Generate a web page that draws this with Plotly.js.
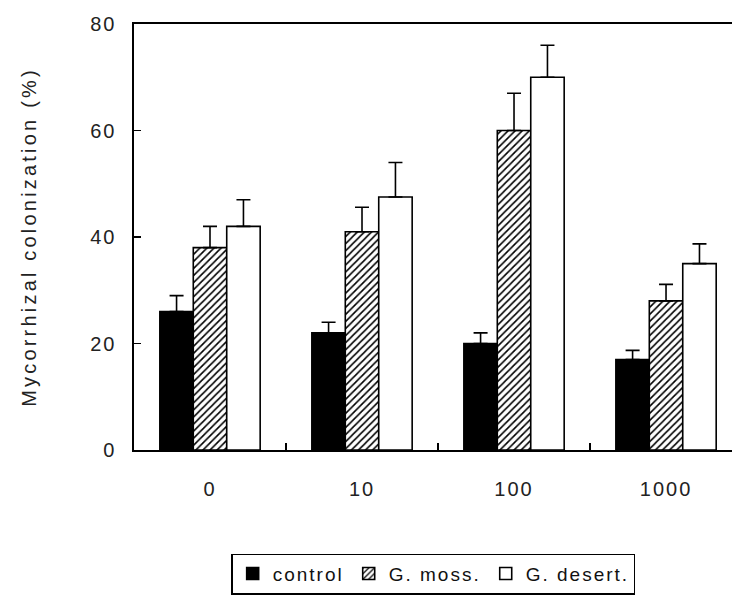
<!DOCTYPE html>
<html>
<head>
<meta charset="utf-8">
<script src="https://cdn.plot.ly/plotly-3.0.1.min.js"></script>
<style>
html,body{margin:0;padding:0;overflow:hidden;background:#fff;width:732px;height:599px;}
#chart{width:732px;height:599px;}
.xtick text, .ytick text, .legendtext { letter-spacing: 2px; }
.ytitle { letter-spacing: 3.2px; }
</style>
</head>
<body>
<div id="chart"></div>
<script>
const categories = ["0", "10", "100", "1000"];
const controlValues = [26, 22, 20, 17];
const controlErrors = [3, 2, 2, 1.7];
const mossValues = [38, 41, 60, 28];
const mossErrors = [4, 4.6, 7, 3.1];
const desertValues = [42, 47.5, 70, 35];
const desertErrors = [5, 6.5, 6, 3.7];
const yTicks = [0, 20, 40, 60, 80];
const seriesNames = ["control", "G. moss.", "G. desert."];

const errStyle = (arr) => ({type: "data", array: arr, symmetric: false, arrayminus: arr.map(() => 0), color: "#000", thickness: 1.6, width: 7});
const lineStyle = {color: "#000", width: 1.6};

const traces = [
  {type: "bar", name: seriesNames[0], x: categories, y: controlValues, error_y: errStyle(controlErrors),
   marker: {color: "#000", line: lineStyle}},
  {type: "bar", name: seriesNames[1], x: categories, y: mossValues, error_y: errStyle(mossErrors),
   marker: {color: "#fff", line: lineStyle, pattern: {shape: "/", fgcolor: "#000", bgcolor: "#fff", size: 5, solidity: 0.32}}},
  {type: "bar", name: seriesNames[2], x: categories, y: desertValues, error_y: errStyle(desertErrors),
   marker: {color: "#fff", line: lineStyle}}
];

const layout = {
  width: 732, height: 599,
  margin: {l: 134, r: 0, t: 24, b: 149},
  paper_bgcolor: "#fff", plot_bgcolor: "#fff",
  font: {family: "Liberation Sans, Arial, sans-serif", color: "#222", size: 19},
  barmode: "group", bargap: 0.34, bargroupgap: 0,
  showlegend: true,
  legend: {orientation: "h", x: 0.163, xanchor: "left", y: -0.243, yanchor: "top",
           bordercolor: "#000", borderwidth: 1.2, font: {size: 19, color: "#111"},
           itemwidth: 30, tracegroupgap: 0},
  xaxis: {type: "category", range: [-0.5, 3.434], showline: true, linecolor: "#000", linewidth: 1.6, mirror: true,
          ticks: "inside", tickson: "boundaries", ticklen: 7, tickcolor: "#000", tickwidth: 1.2,
          showgrid: false, zeroline: false, tickfont: {size: 20, color: "#222"}, ticklabelstandoff: 20},
  yaxis: {range: [0, 80], tickvals: yTicks, showline: true, linecolor: "#000", linewidth: 1.6, mirror: false,
          ticks: "inside", ticklen: 7, tickcolor: "#000", tickwidth: 1.2, showgrid: false, zeroline: false,
          tickfont: {size: 20, color: "#222"}, ticklabelstandoff: 12,
          title: {text: "Mycorrhizal colonization (%)", font: {size: 20, color: "#222"}, standoff: 48}}
};

Plotly.newPlot("chart", traces, layout, {displayModeBar: false, staticPlot: true});
</script>
</body>
</html>
